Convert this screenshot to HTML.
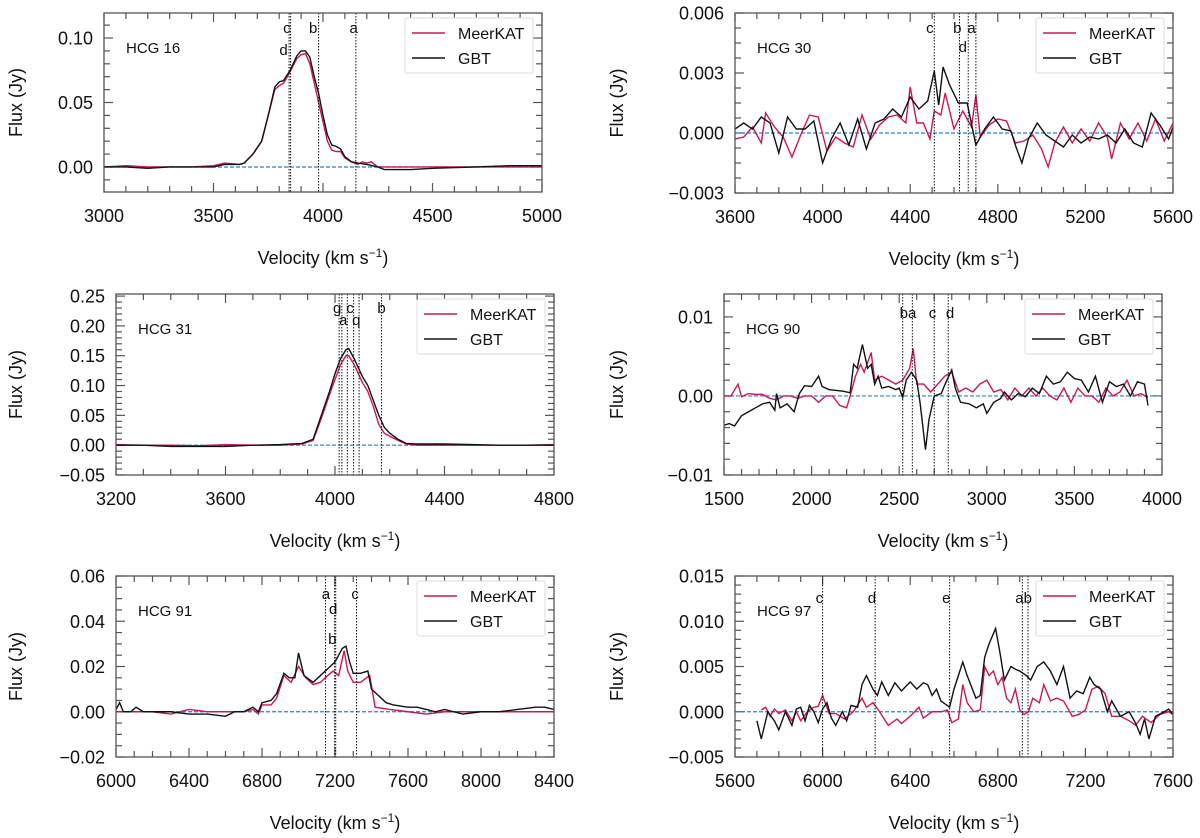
<!DOCTYPE html>
<html><head><meta charset="utf-8"><style>
body{margin:0;background:#fff}
svg{display:block;font-family:"Liberation Sans",Arial,sans-serif}
</style></head><body>
<svg id="fig" width="1200" height="838" viewBox="0 0 1200 838" xmlns="http://www.w3.org/2000/svg"></svg>
<script>
// ---------- data ----------
const hcg16_gbt_v=[3000,3100,3200,3300,3400,3500,3550,3620,3640,3680,3720,3750,3780,3800,3820,3850,3880,3900,3920,3940,3960,3980,4000,4020,4040,4060,4080,4100,4130,4160,4200,4250,4280,4400,4500,4700,4850,5000];
const hcg16_gbt_f=[0,0,-0.001,0,0,0,0.002,0.002,0.003,0.01,0.02,0.04,0.062,0.066,0.067,0.075,0.086,0.09,0.09,0.085,0.07,0.057,0.04,0.025,0.017,0.016,0.014,0.008,0.004,0.003,0.002,0,-0.002,-0.002,-0.001,0,0.001,0.001];
const hcg16_mk_v=[3000,3100,3200,3300,3400,3500,3550,3620,3640,3680,3720,3750,3780,3800,3820,3850,3880,3900,3920,3940,3960,3980,4000,4020,4040,4060,4080,4100,4130,4160,4180,4200,4220,4250,4300,4500,4700,4850,5000];
const hcg16_mk_f=[0,0.001,0,0,0,0.001,0.003,0.002,0.003,0.01,0.02,0.04,0.06,0.063,0.065,0.074,0.084,0.087,0.088,0.08,0.065,0.05,0.035,0.02,0.013,0.012,0.012,0.007,0.004,0.002,0.004,0.003,0.004,0,0,0,0,0,0];
const hcg16_lines=[3845,3852,3980,4150];
const hcg16_lbl=[["c",3835,0],["d",3820,1],["b",3955,0],["a",4140,0]];

const hcg30_gbt_v=[3600,3640,3680,3720,3760,3800,3840,3880,3920,3960,4000,4040,4080,4120,4160,4200,4240,4280,4320,4360,4400,4440,4480,4510,4530,4550,4580,4620,4660,4700,4740,4780,4820,4860,4880,4910,4940,4980,5020,5060,5100,5140,5180,5220,5260,5300,5340,5380,5420,5460,5500,5540,5580,5600];
const hcg30_gbt_f=[0.0002,0.0005,0.0002,0.0008,0.0005,-0.001,0.0008,0.0002,0.0002,0.0006,-0.0015,-0.0003,0.0005,-0.0006,0.0007,-0.0008,0.0005,0.0007,0.0012,0.0008,0.0018,0.0012,0.0016,0.0031,0.0014,0.0033,0.0024,0.0015,0.0015,-0.0006,0.0002,0.0008,0.0002,0.0001,-0.0006,-0.0015,-0.0003,0.0005,-0.0001,-0.0004,-0.0007,-0.0001,-0.0005,-0.0002,-0.0003,-0.0001,-0.0005,0.0002,-0.0005,-0.0007,0.001,0.0004,-0.0003,0.0003];
const hcg30_mk_v=[3600,3640,3680,3720,3740,3780,3820,3860,3900,3940,3980,4020,4060,4100,4140,4180,4220,4260,4300,4340,4380,4400,4430,4460,4490,4510,4540,4560,4600,4640,4680,4700,4720,4760,4800,4840,4880,4920,4960,5000,5030,5060,5100,5140,5180,5220,5260,5300,5320,5360,5400,5440,5480,5520,5560,5600];
const hcg30_mk_f=[-0.0003,-0.0002,0.0003,-0.0005,0.001,0.0003,-0.0002,-0.0012,-0.0001,0.0009,0.0008,-0.0009,-0.0002,-0.0005,-0.0007,0.0009,-0.0003,0.0004,0.0008,0.0009,0.0005,0.0023,0.0005,0.0005,-0.0003,0.0011,0.0009,0.002,0.0002,0.0011,0.0003,0.0019,-0.0002,0.0004,0.0007,0.0006,-0.0005,-0.0004,-0.0001,-0.0008,-0.0017,-0.0005,0.0003,-0.0005,0.0002,-0.0004,0.0005,-0.0002,-0.0013,0.0005,-0.0003,0.0005,-0.0004,0.0007,-0.0004,0.0005];
const hcg30_lines=[4510,4625,4665,4700];
const hcg30_lbl=[["c",4490,0],["b",4615,0],["a",4680,0],["d",4640,1]];

const hcg31_gbt_v=[3200,3300,3400,3500,3600,3700,3800,3880,3920,3950,3980,4000,4020,4040,4050,4070,4100,4120,4140,4160,4180,4200,4230,4260,4300,4400,4500,4600,4700,4800];
const hcg31_gbt_f=[0,0,-0.002,-0.002,-0.002,0,0.001,0.003,0.01,0.05,0.09,0.12,0.145,0.16,0.162,0.145,0.115,0.1,0.075,0.05,0.03,0.02,0.01,0.003,0.002,0.002,0.001,0,0,0];
const hcg31_mk_v=[3200,3300,3400,3500,3600,3700,3800,3880,3920,3950,3980,4000,4020,4040,4050,4070,4100,4120,4140,4160,4180,4200,4230,4260,4300,4400,4500,4600,4700,4800];
const hcg31_mk_f=[0.001,0,0,-0.001,0.001,0,0,0.002,0.008,0.045,0.085,0.11,0.135,0.15,0.15,0.135,0.105,0.09,0.065,0.035,0.02,0.015,0.008,0.002,0,0,0,0,0,0.001];
const hcg31_lines=[4015,4025,4045,4068,4088,4170];
const hcg31_lbl=[["g",4008,0],["c",4055,0],["b",4170,0],["a",4030,1],["q",4078,1]];

const hcg90_gbt_v=[1500,1530,1560,1600,1640,1680,1720,1760,1790,1800,1820,1860,1900,1930,1960,2000,2040,2060,2100,2140,2180,2220,2240,2260,2290,2320,2340,2360,2380,2400,2440,2480,2500,2520,2540,2570,2600,2620,2650,2670,2700,2740,2760,2800,2820,2850,2900,2940,2980,3000,3040,3080,3100,3140,3180,3220,3260,3300,3340,3380,3420,3460,3500,3540,3580,3620,3660,3700,3740,3780,3820,3860,3900,3920];
const hcg90_gbt_f=[-0.0037,-0.0035,-0.0038,-0.0025,-0.002,-0.0015,-0.001,-0.0008,-0.0018,0.0003,-0.0015,-0.001,-0.002,0.0003,0.0013,0.0012,0.0025,0.0012,0.0008,0.0007,0.0006,0.0004,0.004,0.0035,0.0065,0.0035,0.004,0.0015,0.0025,0.001,0.0012,0.0008,0.001,-0.0002,0.002,0.003,0.002,-0.001,-0.0068,-0.003,0,0.0003,0.0014,0.0033,0.001,-0.0008,-0.001,-0.0015,-0.001,-0.0022,-0.0008,-0.0003,0.0005,-0.0005,0.0003,-0.0001,0.001,0.0003,0.0025,0.0015,0.0018,0.003,0.0022,0.002,0.0005,0.0025,-0.0008,0.0018,0.0012,0.0015,0,0.0018,0.0015,-0.0012];
const hcg90_mk_v=[1500,1540,1580,1600,1640,1680,1720,1760,1800,1840,1880,1920,1960,2000,2040,2080,2120,2160,2200,2220,2250,2280,2300,2340,2360,2400,2440,2480,2520,2560,2580,2600,2640,2680,2720,2760,2800,2840,2880,2920,2960,3000,3040,3080,3120,3160,3200,3240,3280,3320,3360,3400,3440,3480,3520,3560,3600,3640,3680,3720,3760,3800,3840,3880,3920];
const hcg90_mk_f=[0,0,0.0015,-0.0001,0.0003,0.0002,0.0002,-0.0003,-0.0005,0,0,-0.0003,0,0,-0.0008,0,0,-0.0012,-0.0015,0,0.0025,0.004,0.003,0.0055,0.002,0.0025,0.002,0.0015,0.002,0.0035,0.006,0.0015,0.0015,0.0005,0.0015,0.0025,0.003,0.0005,0.001,0.0005,0.0015,0.002,0.0005,0.0008,-0.0005,0.001,0,0.001,0,0.001,0,-0.0005,0.001,-0.0008,0.001,0,0,-0.0008,0.001,0,0.0005,0.002,0,0.0003,-0.0002];
const hcg90_lines=[2520,2575,2700,2780];
const hcg90_lbl=[["ba",2550,0],["c",2690,0],["d",2790,0]];

const hcg91_gbt_v=[6000,6020,6040,6080,6110,6150,6200,6300,6400,6500,6600,6650,6700,6750,6780,6800,6850,6880,6920,6950,6980,7000,7030,7080,7120,7160,7200,7240,7260,7280,7300,7340,7380,7400,7440,7480,7520,7600,7650,7700,7750,7800,7900,8000,8100,8200,8300,8350,8400];
const hcg91_gbt_f=[0.001,0.004,0,0,0.002,0,0,0,-0.001,-0.001,-0.002,0,0,0.002,0,0.004,0.005,0.008,0.017,0.015,0.015,0.026,0.016,0.013,0.016,0.019,0.022,0.028,0.029,0.022,0.017,0.017,0.018,0.01,0.007,0.004,0.003,0.002,0.002,0.001,0,0.001,-0.001,0,0,0.001,0.002,0.002,0.001];
const hcg91_mk_v=[6000,6100,6200,6300,6400,6500,6700,6750,6780,6800,6850,6880,6920,6960,7000,7040,7080,7120,7160,7190,7220,7250,7270,7300,7340,7390,7420,7500,7600,7700,7800,8000,8200,8300,8400];
const hcg91_mk_f=[0,0,0,-0.001,0.001,0,0,0.001,-0.001,0.003,0.003,0.006,0.016,0.013,0.02,0.015,0.012,0.013,0.016,0.018,0.016,0.027,0.018,0.013,0.013,0.016,0.002,0.001,0,-0.001,0,0,0,0,0];
const hcg91_lines=[7148,7198,7204,7318];
const hcg91_lbl=[["a",7150,0],["d",7190,1],["b",7185,2],["c",7310,0]];

const hcg97_gbt_v=[5700,5720,5750,5780,5800,5830,5860,5880,5900,5920,5940,5960,5980,6000,6020,6040,6060,6090,6110,6130,6160,6180,6200,6230,6250,6270,6300,6330,6360,6400,6430,6460,6480,6500,6520,6540,6580,6600,6640,6660,6700,6720,6740,6760,6790,6810,6830,6860,6880,6900,6930,6950,6980,7010,7040,7070,7100,7130,7160,7190,7220,7240,7270,7300,7320,7360,7400,7430,7450,7470,7490,7520,7560,7580,7600];
const hcg97_gbt_f=[-0.001,-0.003,0,-0.001,-0.002,0,-0.0015,0.0003,0.0005,-0.001,0.0007,0,-0.0012,0.0003,0.001,-0.0007,-0.0015,0,-0.001,0.0007,0.0005,0.003,0.004,0.0025,0.0018,0.0033,0.0018,0.0032,0.0023,0.0033,0.0025,0.0032,0.003,0.0018,0.0025,0.0012,0.0005,0.0025,0.0055,0.004,0.0015,0.0018,0.006,0.0075,0.0092,0.0065,0.0035,0.005,0.0047,0.0045,0.004,0.0035,0.005,0.0055,0.0045,0.003,0.005,0.0015,0.0023,0.002,0.0038,0.003,0.0025,0,0.0012,-0.0005,0,-0.0013,-0.0025,-0.0008,-0.003,-0.0005,0,0.0003,-0.0003];
const hcg97_mk_v=[5720,5740,5760,5780,5800,5830,5860,5880,5900,5930,5960,5980,6000,6030,6060,6100,6140,6180,6200,6230,6260,6300,6340,6360,6400,6440,6460,6500,6540,6570,6590,6620,6640,6660,6690,6720,6740,6760,6780,6800,6820,6840,6860,6880,6900,6920,6940,6960,6990,7010,7040,7070,7100,7140,7170,7200,7230,7260,7290,7320,7360,7400,7430,7460,7500,7540,7580,7600];
const hcg97_mk_f=[0.0002,0.0005,-0.0005,0.0003,-0.0002,0.0002,-0.001,0,-0.001,0,0.0005,0.0006,0.0018,-0.0002,-0.0002,-0.0008,0,0.0015,0.0005,0.001,0,-0.0015,-0.0008,-0.0013,-0.0005,0.0005,-0.0007,0,0,0.0002,-0.0012,-0.0008,0.003,0.001,0,0.0002,0.005,0.004,0.0045,0.003,0.0038,0.0015,0.001,0.0025,0.0002,-0.0003,0,0.0015,0.001,0.003,0.0012,0.0015,0.0012,-0.0005,-0.0003,0.0002,0.0025,0.0028,0.002,-0.0005,-0.0005,-0.001,-0.0015,-0.0005,-0.0012,-0.0003,0,-0.0003];
const hcg97_lines=[6000,6240,6580,6912,6938];
const hcg97_lbl=[["c",5985,0],["d",6225,0],["e",6565,0],["ab",6918,0]];

const panelNames=["HCG 16","HCG 30","HCG 31","HCG 90","HCG 91","HCG 97"];
const xTicks=[[3000,3500,4000,4500,5000],[3600,4000,4400,4800,5200,5600],[3200,3600,4000,4400,4800],[1500,2000,2500,3000,3500,4000],[6000,6400,6800,7200,7600,8000,8400],[5600,6000,6400,6800,7200,7600]];
const yTicks=[[0,0.05,0.10],[-0.003,0,0.003,0.006],[-0.05,0,0.05,0.10,0.15,0.20,0.25],[-0.01,0,0.01],[-0.02,0,0.02,0.04,0.06],[-0.005,0,0.005,0.010,0.015]];
const yTickLabels=[["0.00","0.05","0.10"],["\u22120.003","0.000","0.003","0.006"],["\u22120.05","0.00","0.05","0.10","0.15","0.20","0.25"],["\u22120.01","0.00","0.01"],["\u22120.02","0.00","0.02","0.04","0.06"],["\u22120.005","0.000","0.005","0.010","0.015"]];
const xDomains=[[3000,5000],[3600,5600],[3200,4800],[1500,4000],[6000,8400],[5600,7600]];
const yDomains=[[-0.0194,0.1194],[-0.003,0.006],[-0.05,0.2535],[-0.01,0.0129],[-0.02,0.06],[-0.005,0.015]];

// ---------- layout (pixels) ----------
const geom=[
 {x0:104,x1:542,y0:13,y1:192,xm:100,ym:0.01,ytx:22},
 {x0:735,x1:1173,y0:13,y1:193,xm:100,ym:0.00075,ytx:623},
 {x0:116,x1:554,y0:294,y1:475,xm:100,ym:0.01,ytx:22},
 {x0:724,x1:1162,y0:294,y1:475,xm:100,ym:0.002,ytx:623},
 {x0:116,x1:554,y0:576,y1:757,xm:100,ym:0.005,ytx:22},
 {x0:735,x1:1173,y0:576,y1:757,xm:100,ym:0.001,ytx:623}
];
const series=[
 [hcg16_gbt_v,hcg16_gbt_f,hcg16_mk_v,hcg16_mk_f,hcg16_lines,hcg16_lbl],
 [hcg30_gbt_v,hcg30_gbt_f,hcg30_mk_v,hcg30_mk_f,hcg30_lines,hcg30_lbl],
 [hcg31_gbt_v,hcg31_gbt_f,hcg31_mk_v,hcg31_mk_f,hcg31_lines,hcg31_lbl],
 [hcg90_gbt_v,hcg90_gbt_f,hcg90_mk_v,hcg90_mk_f,hcg90_lines,hcg90_lbl],
 [hcg91_gbt_v,hcg91_gbt_f,hcg91_mk_v,hcg91_mk_f,hcg91_lines,hcg91_lbl],
 [hcg97_gbt_v,hcg97_gbt_f,hcg97_mk_v,hcg97_mk_f,hcg97_lines,hcg97_lbl]
];
const lblRowOff=[[15,37],[15,34],[14,26],[19,37],[18,33,63],[22,40]];

const NS="http://www.w3.org/2000/svg";
const svg=document.getElementById("fig");
function mk(tag,attrs,parent){const e=document.createElementNS(NS,tag);for(const k in attrs)e.setAttribute(k,attrs[k]);(parent||svg).appendChild(e);return e;}

geom.forEach((g,i)=>{
  const [gv,gf,mv,mf,lines,lbls]=series[i];
  const xd=xDomains[i],yd=yDomains[i];
  const sx=v=>g.x0+(v-xd[0])/(xd[1]-xd[0])*(g.x1-g.x0);
  const sy=f=>g.y1-(f-yd[0])/(yd[1]-yd[0])*(g.y1-g.y0);
  const grp=mk("g",{});
  
  
  const clipId="clip"+i;
  const cp=mk("clipPath",{id:clipId},grp);
  mk("rect",{x:g.x0,y:g.y0,width:g.x1-g.x0,height:g.y1-g.y0},cp);
  const tk=mk("g",{stroke:"#555","stroke-width":1.2},grp);
  
  
  const eps=1e-9;
  for(let v=Math.ceil(xd[0]/g.xm)*g.xm;v<=xd[1]+eps;v+=g.xm){
    const major=xTicks[i].some(t=>Math.abs(t-v)<1e-6);const L=major?9:6;const X=sx(v);
    mk("line",{x1:X,x2:X,y1:g.y1,y2:g.y1-L},tk);mk("line",{x1:X,x2:X,y1:g.y0,y2:g.y0+L},tk);
  }
  for(let k=Math.ceil(yd[0]/g.ym-1e-6);k*g.ym<=yd[1]+eps;k++){
    const v=k*g.ym;const major=yTicks[i].some(t=>Math.abs(t-v)<1e-9);const L=major?9:6;const Y=sy(v);
    mk("line",{x1:g.x0,x2:g.x0+L,y1:Y,y2:Y},tk);mk("line",{x1:g.x1,x2:g.x1-L,y1:Y,y2:Y},tk);
  }
  xTicks[i].forEach(t=>{const e=mk("text",{x:sx(t),y:g.y1+30,"text-anchor":"middle","font-size":18,fill:"#111"},grp);e.textContent=t;
    
    });
  yTicks[i].forEach((t,j)=>{const e=mk("text",{x:g.x0-11,y:sy(t)+6.5,"text-anchor":"end","font-size":18,fill:"#111"},grp);e.textContent=yTickLabels[i][j];
    
    });
  const xt=mk("text",{x:(g.x0+g.x1)/2,y:g.y1+72,"text-anchor":"middle","font-size":18,fill:"#111"},grp);
  xt.innerHTML='Velocity (km s<tspan dy="-7" font-size="12">\u22121</tspan><tspan dy="7">)</tspan>';
  
  
  const cy=(g.y0+g.y1)/2;
  const yt=mk("text",{x:g.ytx,y:cy,"text-anchor":"middle","font-size":18,fill:"#111",transform:`rotate(-90 ${g.ytx} ${cy})`},grp);
  yt.textContent="Flux (Jy)";
  
  
  const pc=mk("g",{"clip-path":`url(#${clipId})`},grp);
  const base=mk("line",{x1:g.x0,x2:g.x1,y1:sy(0),y2:sy(0),stroke:"#2b7fc0","stroke-width":1.2,"stroke-dasharray":"4,2"},pc);
  
  
  const mkp=mk("polyline",{points:mv.map((v,j)=>sx(v)+","+sy(mf[j])).join(" "),fill:"none",stroke:"#c8185a","stroke-width":1.4},pc);
  
  
  const gbp=mk("polyline",{points:gv.map((v,j)=>sx(v)+","+sy(gf[j])).join(" "),fill:"none",stroke:"#111","stroke-width":1.4},pc);
  
  
  lines.forEach(v=>{const l=mk("line",{x1:sx(v),x2:sx(v),y1:g.y0,y2:g.y1,stroke:"#111","stroke-width":1,"stroke-dasharray":"1.5,1.5"},pc);
    
    });
  lbls.forEach(([t,v,r])=>{const e=mk("text",{x:sx(v),y:g.y0+lblRowOff[i][r]+5,"text-anchor":"middle","font-size":15,fill:"#111"},grp);e.textContent=t;
    
    });
  const fr=mk("rect",{x:g.x0,y:g.y0,width:g.x1-g.x0,height:g.y1-g.y0,fill:"none",stroke:"#555","stroke-width":1.3},grp);
  
  
  const nm=mk("text",{x:g.x0+22,y:g.y0+40,"font-size":15,fill:"#111"},grp);nm.textContent=panelNames[i];
  
  
  const lx=g.x1-137,ly=g.y0+5;
  const lg=mk("g",{},grp);
  
  
  mk("rect",{x:lx,y:ly,width:128,height:55,fill:"#fff",stroke:"#ddd","stroke-width":1,rx:2},lg);
  mk("line",{x1:lx+7,x2:lx+40,y1:ly+15,y2:ly+15,stroke:"#c8185a","stroke-width":1.4},lg);
  mk("line",{x1:lx+7,x2:lx+40,y1:ly+40,y2:ly+40,stroke:"#111","stroke-width":1.4},lg);
  const t1=mk("text",{x:lx+53,y:ly+21,"font-size":16,fill:"#111"},lg);t1.textContent="MeerKAT";
  
  
  const t2=mk("text",{x:lx+53,y:ly+46,"font-size":16,fill:"#111"},lg);t2.textContent="GBT";
  
  
});
</script>
</body></html>
